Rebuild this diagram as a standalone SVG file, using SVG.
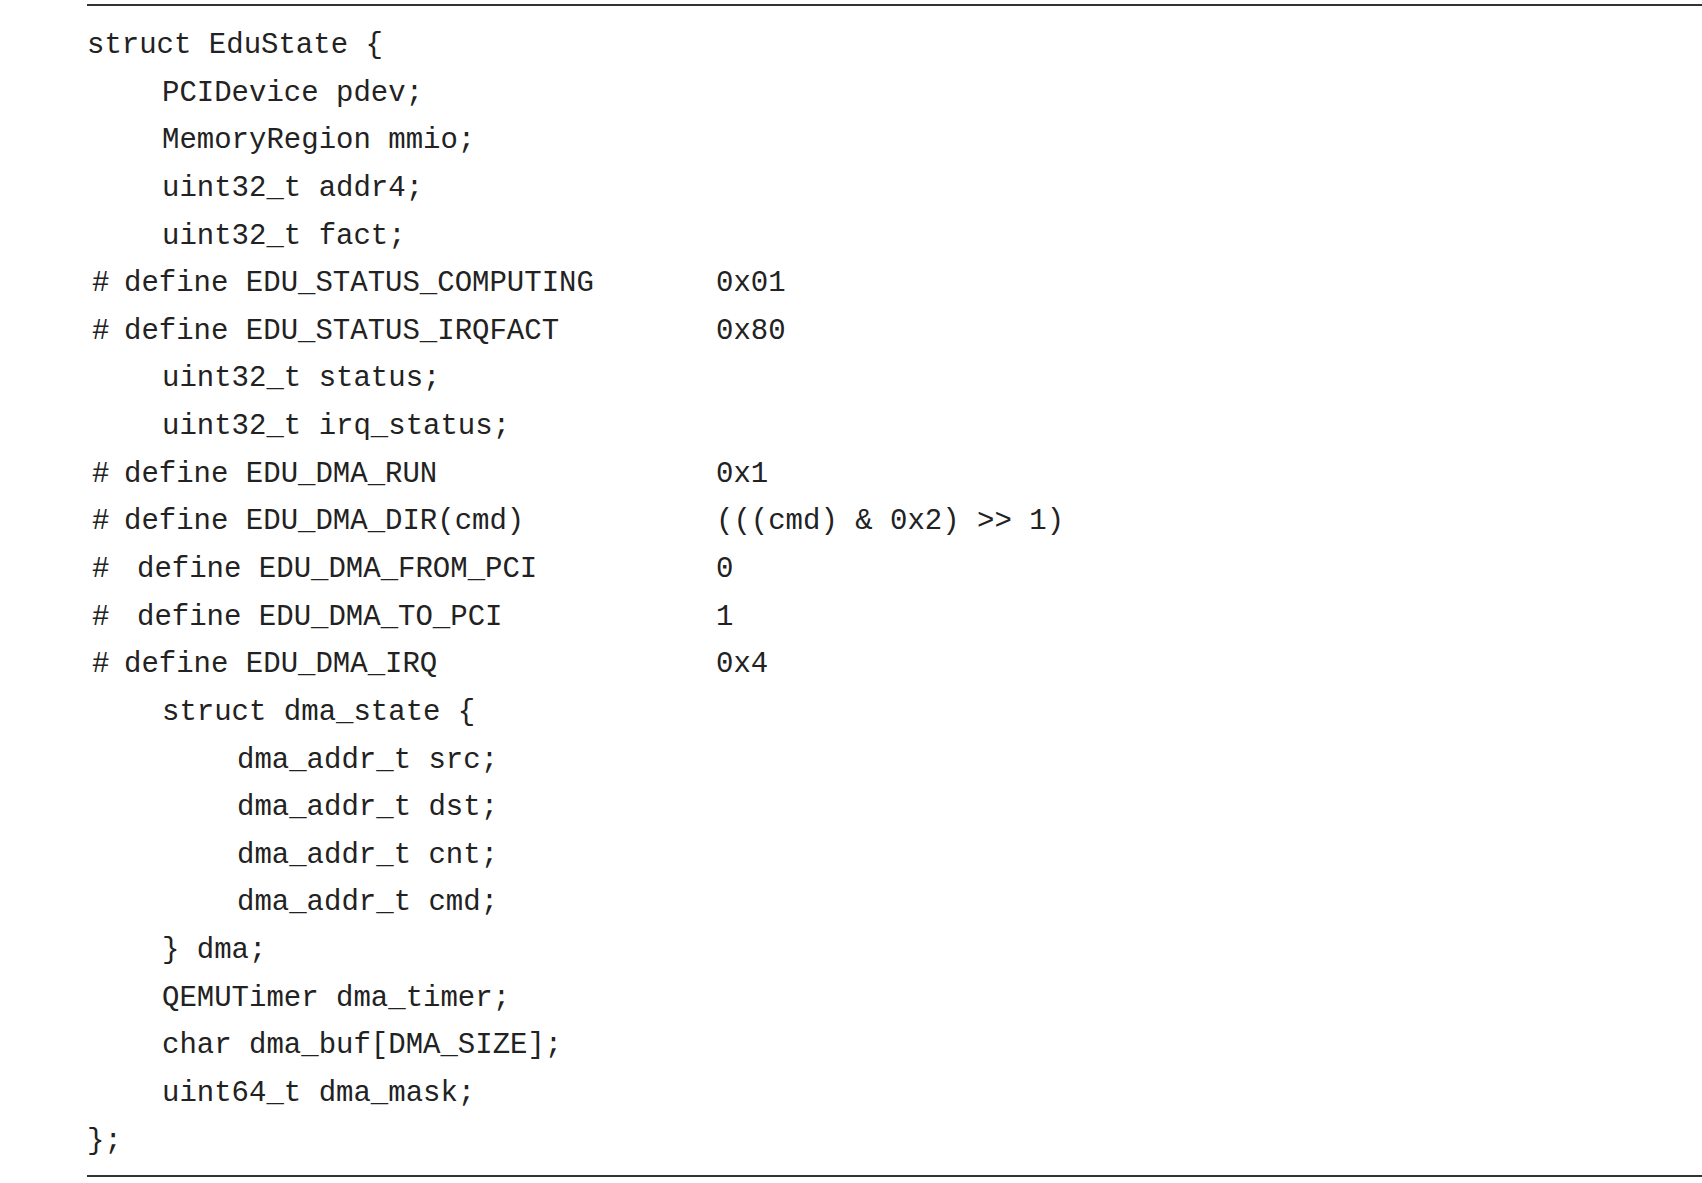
<svg xmlns="http://www.w3.org/2000/svg" width="1702" height="1183" viewBox="0 0 1702 1183">
<style>
text{font-family:"Liberation Mono","DejaVu Sans Mono",monospace;font-size:29px;fill:#222}
.rule{stroke:#333;stroke-width:2}
</style>
<rect width="1702" height="1183" fill="#fff"/>
<line class="rule" x1="87" y1="5" x2="1702" y2="5"/>
<line class="rule" x1="87" y1="1176" x2="1702" y2="1176"/>
<g id="code">
<text x="87" y="53">struct EduState {</text>
<text x="162" y="101">PCIDevice pdev;</text>
<text x="162" y="148">MemoryRegion mmio;</text>
<text x="162" y="196">uint32_t addr4;</text>
<text x="162" y="244">uint32_t fact;</text>
<text x="92" y="291">#</text><text x="124" y="291">define EDU_STATUS_COMPUTING</text><text x="716" y="291">0x01</text>
<text x="92" y="339">#</text><text x="124" y="339">define EDU_STATUS_IRQFACT</text><text x="716" y="339">0x80</text>
<text x="162" y="386">uint32_t status;</text>
<text x="162" y="434">uint32_t irq_status;</text>
<text x="92" y="482">#</text><text x="124" y="482">define EDU_DMA_RUN</text><text x="716" y="482">0x1</text>
<text x="92" y="529">#</text><text x="124" y="529">define EDU_DMA_DIR(cmd)</text><text x="716" y="529">(((cmd) &amp; 0x2) &gt;&gt; 1)</text>
<text x="92" y="577">#</text><text x="137" y="577">define EDU_DMA_FROM_PCI</text><text x="716" y="577">0</text>
<text x="92" y="625">#</text><text x="137" y="625">define EDU_DMA_TO_PCI</text><text x="716" y="625">1</text>
<text x="92" y="672">#</text><text x="124" y="672">define EDU_DMA_IRQ</text><text x="716" y="672">0x4</text>
<text x="162" y="720">struct dma_state {</text>
<text x="237" y="768">dma_addr_t src;</text>
<text x="237" y="815">dma_addr_t dst;</text>
<text x="237" y="863">dma_addr_t cnt;</text>
<text x="237" y="910">dma_addr_t cmd;</text>
<text x="162" y="958">} dma;</text>
<text x="162" y="1006">QEMUTimer dma_timer;</text>
<text x="162" y="1053">char dma_buf[DMA_SIZE];</text>
<text x="162" y="1101">uint64_t dma_mask;</text>
<text x="87" y="1149">};</text>
</g>
</svg>
